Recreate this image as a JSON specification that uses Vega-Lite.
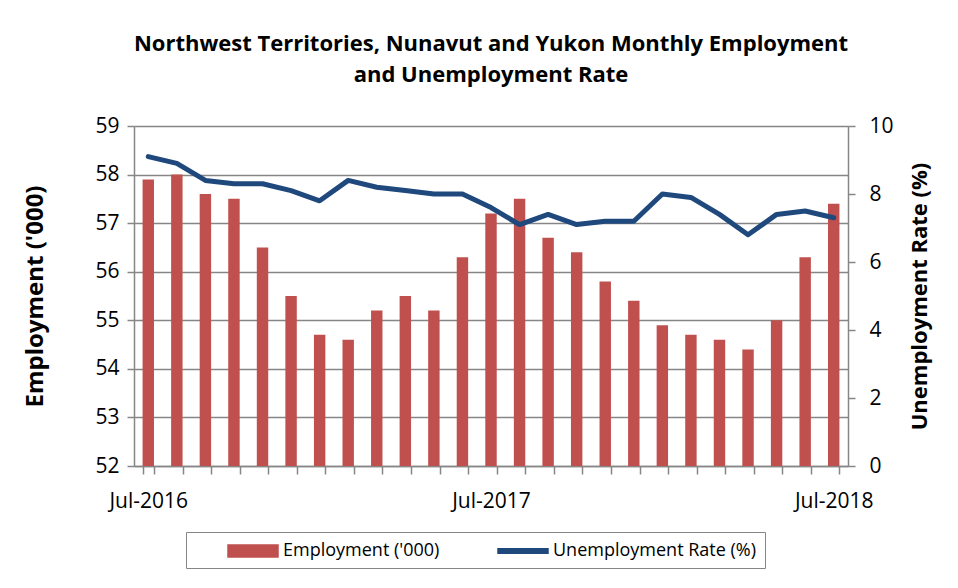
{
  "$schema": "https://vega.github.io/schema/vega-lite/v6.json",
  "width": 714,
  "height": 340,
  "autosize": "none",
  "padding": {"left": 134, "top": 126, "right": 110, "bottom": 122},
  "background": "white",
  "title": {
    "text": ["Northwest Territories, Nunavut and Yukon Monthly Employment", "and Unemployment Rate"],
    "font": "Open Sans",
    "fontSize": 22,
    "fontWeight": "bold",
    "color": "#000000",
    "lineHeight": 31,
    "anchor": "middle",
    "frame": "group",
    "offset": 28
  },
  "config": {
    "view": {"stroke": null},
    "font": "Open Sans",
    "axis": {
      "labelFont": "Open Sans",
      "titleFont": "Open Sans",
      "labelColor": "#000000",
      "titleColor": "#000000",
      "domainColor": "#868686",
      "domainWidth": 1.5,
      "tickColor": "#868686",
      "tickWidth": 1.5,
      "gridColor": "#868686",
      "gridWidth": 1.5
    }
  },
  "data": {
    "values": [
      {"month": "Jul-2016", "emp": 57.9, "rate": 9.1},
      {"month": "Aug-2016", "emp": 58.0, "rate": 8.9},
      {"month": "Sep-2016", "emp": 57.6, "rate": 8.4},
      {"month": "Oct-2016", "emp": 57.5, "rate": 8.3},
      {"month": "Nov-2016", "emp": 56.5, "rate": 8.3},
      {"month": "Dec-2016", "emp": 55.5, "rate": 8.1},
      {"month": "Jan-2017", "emp": 54.7, "rate": 7.8},
      {"month": "Feb-2017", "emp": 54.6, "rate": 8.4},
      {"month": "Mar-2017", "emp": 55.2, "rate": 8.2},
      {"month": "Apr-2017", "emp": 55.5, "rate": 8.1},
      {"month": "May-2017", "emp": 55.2, "rate": 8.0},
      {"month": "Jun-2017", "emp": 56.3, "rate": 8.0},
      {"month": "Jul-2017", "emp": 57.2, "rate": 7.6},
      {"month": "Aug-2017", "emp": 57.5, "rate": 7.1},
      {"month": "Sep-2017", "emp": 56.7, "rate": 7.4},
      {"month": "Oct-2017", "emp": 56.4, "rate": 7.1},
      {"month": "Nov-2017", "emp": 55.8, "rate": 7.2},
      {"month": "Dec-2017", "emp": 55.4, "rate": 7.2},
      {"month": "Jan-2018", "emp": 54.9, "rate": 8.0},
      {"month": "Feb-2018", "emp": 54.7, "rate": 7.9},
      {"month": "Mar-2018", "emp": 54.6, "rate": 7.4},
      {"month": "Apr-2018", "emp": 54.4, "rate": 6.8},
      {"month": "May-2018", "emp": 55.0, "rate": 7.4},
      {"month": "Jun-2018", "emp": 56.3, "rate": 7.5},
      {"month": "Jul-2018", "emp": 57.4, "rate": 7.3}
    ]
  },
  "encoding": {
    "x": {
      "field": "month",
      "type": "nominal",
      "sort": null,
      "scale": {"paddingInner": 0.6, "paddingOuter": 0.3},
      "axis": {
        "title": null,
        "labelAngle": 0,
        "labelFontSize": 21,
        "labelPadding": 16,
        "tickSize": 8,
        "tickBand": "extent",
        "labelExpr": "substring(datum.label, 0, 3) === 'Jul' ? datum.label : ''",
        "labelOverlap": false,
        "grid": false
      }
    }
  },
  "layer": [
    {
      "mark": {"type": "bar", "clip": true},
      "encoding": {
        "y": {
          "field": "emp",
          "type": "quantitative",
          "scale": {"domain": [52, 59], "zero": false, "nice": false},
          "axis": {
            "orient": "left",
            "title": "Employment ('000)",
            "titleFontSize": 24,
            "titleFontWeight": "bold",
            "titlePadding": 47,
            "labelFontSize": 21,
            "labelPadding": 8,
            "tickSize": 7,
            "values": [52, 53, 54, 55, 56, 57, 58, 59],
            "grid": true
          }
        },
        "color": {
          "datum": "Employment ('000)",
          "type": "nominal",
          "scale": {"domain": ["Employment ('000)", "Unemployment Rate (%)"], "range": ["#C0504D", "#1F497D"]},
          "legend": {
            "title": null,
            "orient": "none",
            "legendX": 52,
            "legendY": 406,
            "direction": "horizontal",
            "strokeColor": "#868686",
            "padding": 8,
            "labelFont": "Open Sans",
            "labelFontSize": 18,
            "labelColor": "#000000",
            "labelOffset": 19,
            "labelLimit": 400,
            "columnPadding": 24,
            "symbolOffset": 48,
            "symbolSize": 400,
            "encode": {
              "symbols": {
                "update": {
                  "shape": {"signal": "datum.value === 'Employment (\\'000)' ? 'M-2.5,-0.6H2.5V0.6H-2.5Z' : 'M-2.5,-0.22H2.5V0.22H-2.5Z'"},
                  "fill": {"signal": "datum.value === 'Employment (\\'000)' ? '#C0504D' : '#1F497D'"},
                  "stroke": {"value": "transparent"},
                  "opacity": {"value": 1},
                  "fillOpacity": {"value": 1},
                  "size": {"value": 400}
                }
              },
              "legend": {
                "update": {
                  "width": {"value": 578}
                }
              }
            }
          }
        }
      }
    },
    {
      "mark": {"type": "line", "strokeWidth": 5, "strokeJoin": "round", "strokeCap": "round"},
      "encoding": {
        "y": {
          "field": "rate",
          "type": "quantitative",
          "scale": {"domain": [0, 10], "nice": false},
          "axis": {
            "orient": "right",
            "title": "Unemployment Rate (%)",
            "titleAngle": -90,
            "titleFontSize": 22,
            "titleFontWeight": "bold",
            "titlePadding": 38,
            "labelFontSize": 21,
            "labelPadding": 14,
            "tickSize": 7,
            "values": [0, 2, 4, 6, 8, 10],
            "grid": false
          }
        },
        "color": {"datum": "Unemployment Rate (%)", "type": "nominal"}
      }
    }
  ],
  "resolve": {"scale": {"y": "independent"}}
}
